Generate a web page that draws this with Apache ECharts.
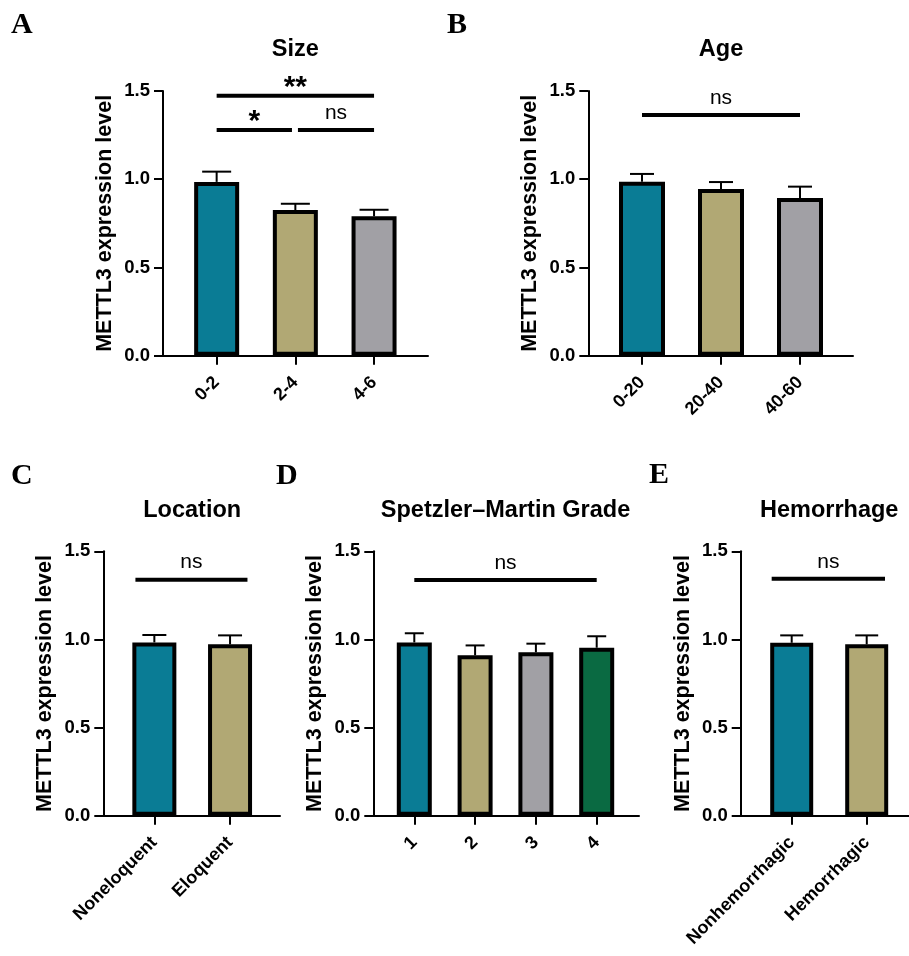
<!DOCTYPE html>
<html>
<head>
<meta charset="utf-8">
<script src="https://cdn.jsdelivr.net/npm/echarts@6/dist/echarts.min.js"></script>
<style>
html,body{margin:0;padding:0;background:#fff;}
#chart{width:909px;height:956px;}
</style>
</head>
<body>
<div id="chart"></div>
<script>
// ---------------- DATA ----------------
const yTicks = [0.0, 0.5, 1.0, 1.5];
const yAxisName = 'METTL3 expression level';

const sizeTitle = 'Size';
const sizeCategories = ['0-2', '2-4', '4-6'];
const sizeMeans = [0.985, 0.825, 0.79];
const sizeSems = [0.058, 0.036, 0.037];
const sizeBrackets = [[0, 2, 1.473], [0, 0.957, 1.279], [1.033, 2, 1.279]];
const sizeBracketLabels = ['**', '*', 'ns'];

const ageTitle = 'Age';
const ageCategories = ['0-20', '20-40', '40-60'];
const ageMeans = [0.986, 0.944, 0.893];
const ageSems = [0.044, 0.040, 0.065];
const ageBrackets = [[0, 2, 1.364]];
const ageBracketLabels = ['ns'];

const locationTitle = 'Location';
const locationCategories = ['Noneloquent', 'Eloquent'];
const locationMeans = [0.983, 0.972];
const locationSems = [0.042, 0.051];
const locationBrackets = [[-0.25, 1.23, 1.339]];
const locationBracketLabels = ['ns'];

const gradeTitle = 'Spetzler\u2013Martin Grade';
const gradeCategories = ['1', '2', '3', '4'];
const gradeMeans = [0.983, 0.910, 0.927, 0.953];
const gradeSems = [0.052, 0.056, 0.049, 0.065];
const gradeBrackets = [[0, 3, 1.337]];
const gradeBracketLabels = ['ns'];

const hemorrhageTitle = 'Hemorrhage';
const hemorrhageCategories = ['Nonhemorrhagic', 'Hemorrhagic'];
const hemorrhageMeans = [0.981, 0.972];
const hemorrhageSems = [0.042, 0.051];
const hemorrhageBrackets = [[-0.267, 1.244, 1.344]];
const hemorrhageBracketLabels = ['ns'];

const panelLetters = ['A', 'B', 'C', 'D', 'E'];

// ---------------- STYLE / LAYOUT ----------------
const TEAL = '#0a7c95', TAN = '#b1a874', GRAY = '#a1a0a5', GREEN = '#0a6a42';
const SANS = '"Liberation Sans", Arial, sans-serif';
const SERIF = '"Liberation Serif", "Times New Roman", serif';

const panels = [
  {title: sizeTitle, cats: sizeCategories, means: sizeMeans, sems: sizeSems, br: sizeBrackets, brl: sizeBracketLabels, colors: [TEAL, TAN, GRAY]},
  {title: ageTitle, cats: ageCategories, means: ageMeans, sems: ageSems, br: ageBrackets, brl: ageBracketLabels, colors: [TEAL, TAN, GRAY]},
  {title: locationTitle, cats: locationCategories, means: locationMeans, sems: locationSems, br: locationBrackets, brl: locationBracketLabels, colors: [TEAL, TAN]},
  {title: gradeTitle, cats: gradeCategories, means: gradeMeans, sems: gradeSems, br: gradeBrackets, brl: gradeBracketLabels, colors: [TEAL, TAN, GRAY, GREEN]},
  {title: hemorrhageTitle, cats: hemorrhageCategories, means: hemorrhageMeans, sems: hemorrhageSems, br: hemorrhageBrackets, brl: hemorrhageBracketLabels, colors: [TEAL, TAN]}
];

const layouts = [
  {fl: 163, fw: 265, top: 91, h: 264.7, dl: 177.3, dw: 236.1, bw: 45, cap: 29, titleTop: 38, letterX: 11, letterY: 10},
  {fl: 588.3, fw: 264.7, top: 91, h: 264.7, dl: 602.5, dw: 237, bw: 46, cap: 24, titleTop: 38, letterX: 447, letterY: 10},
  {fl: 103.3, fw: 176.7, top: 551.3, h: 264.4, dl: 116.5, dw: 151.4, bw: 44, cap: 24, titleTop: 499, letterX: 11, letterY: 461},
  {fl: 373.3, fw: 265.7, top: 551.3, h: 264.4, dl: 383.9, dw: 243.2, bw: 35, cap: 19, titleTop: 499, letterX: 276, letterY: 461},
  {fl: 740.7, fw: 168.3, top: 551.3, h: 264.4, dl: 754.2, dw: 150, bw: 43, cap: 23, titleTop: 499, letterX: 649, letterY: 460}
];

// ---------------- BUILD OPTION ----------------
const grid = [], xAxis = [], yAxis = [], series = [], title = [];

panels.forEach((p, i) => {
  const L = layouts[i];
  const gF = grid.length;
  grid.push({left: L.fl, width: L.fw, top: L.top, height: L.h, outerBoundsMode: 'none'});
  const gD = grid.length;
  grid.push({left: L.dl, width: L.dw, top: L.top, height: L.h, outerBoundsMode: 'none'});

  // frame axes
  xAxis.push({type: 'value', gridIndex: gF, min: 0, max: 1,
    axisLine: {show: true, lineStyle: {color: '#000', width: 2}},
    axisTick: {show: false}, axisLabel: {show: false}, splitLine: {show: false}});
  yAxis.push({type: 'value', gridIndex: gF, min: yTicks[0], max: yTicks[yTicks.length - 1], interval: 0.5,
    name: yAxisName, nameLocation: 'middle', nameGap: 47,
    nameTextStyle: {fontFamily: SANS, fontWeight: 'bold', fontSize: 21.5, color: '#000'},
    axisLine: {show: true, lineStyle: {color: '#000', width: 2}},
    axisTick: {show: true, length: 9, lineStyle: {color: '#000', width: 2}},
    axisLabel: {margin: 13, fontFamily: SANS, fontWeight: 'bold', fontSize: 18.5, color: '#000',
      formatter: v => v.toFixed(1)},
    splitLine: {show: false}});

  // data axes
  const xC = xAxis.length;
  xAxis.push({type: 'category', gridIndex: gD, data: p.cats,
    axisLine: {show: false},
    axisTick: {show: true, alignWithLabel: true, length: 9, lineStyle: {color: '#000', width: 2}},
    axisLabel: {rotate: 45, margin: 24, fontFamily: SANS, fontWeight: 'bold', fontSize: 18, color: '#000', interval: 0},
    splitLine: {show: false}});
  const xV = xAxis.length;
  xAxis.push({type: 'value', gridIndex: gD, min: -0.5, max: p.cats.length - 0.5, show: false});
  const yD = yAxis.length;
  yAxis.push({type: 'value', gridIndex: gD, min: yTicks[0], max: yTicks[yTicks.length - 1], show: false});

  series.push({type: 'bar', xAxisIndex: xC, yAxisIndex: yD, barWidth: L.bw,
    data: p.means.map((m, k) => ({value: m, itemStyle: {color: p.colors[k]}})),
    itemStyle: {borderColor: '#000', borderWidth: 4},
    emphasis: {disabled: true}, z: 2});

  const means = p.means, sems = p.sems, capW = L.cap;
  series.push({type: 'custom', xAxisIndex: xV, yAxisIndex: yD, z: 3,
    dimensions: [{name: 'x', type: 'float'}, {name: 'm', type: 'float'}, {name: 's', type: 'float'}],
    encode: {x: 0, y: 1},
    data: means.map((m, k) => [k, m, sems[k]]),
    renderItem: (params, api) => {
      const x = api.value(0), m = api.value(1), s = api.value(2);
      const b = api.coord([x, m]);
      const t = api.coord([x, m + s]);
      return {type: 'group', children: [
        {type: 'line', shape: {x1: b[0], y1: b[1], x2: t[0], y2: t[1]}, style: {stroke: '#000', lineWidth: 2}},
        {type: 'line', shape: {x1: t[0] - capW / 2, y1: t[1], x2: t[0] + capW / 2, y2: t[1]}, style: {stroke: '#000', lineWidth: 2}}
      ]};
    }});

  const brl = p.brl;
  series.push({type: 'custom', xAxisIndex: xV, yAxisIndex: yD, z: 3,
    dimensions: [{name: 'a', type: 'float'}, {name: 'b', type: 'float'}, {name: 'y', type: 'float'}],
    encode: {x: [0, 1], y: 2},
    data: p.br,
    renderItem: (params, api) => {
      const p1 = api.coord([api.value(0), api.value(2)]);
      const p2 = api.coord([api.value(1), api.value(2)]);
      const lab = brl[params.dataIndex];
      const star = lab.indexOf('*') >= 0;
      return {type: 'group', children: [
        {type: 'line', shape: {x1: p1[0], y1: p1[1], x2: p2[0], y2: p2[1]}, style: {stroke: '#000', lineWidth: 4}},
        {type: 'text', x: (p1[0] + p2[0]) / 2, y: p1[1] - (star ? 8 : 17),
          style: {text: lab, fill: '#000', align: 'center', verticalAlign: 'middle',
            font: star ? 'bold 30px ' + SANS : 'normal 21px ' + SANS}}
      ]};
    }});

  title.push({text: p.title, left: L.dl + L.dw / 2, top: L.titleTop, textAlign: 'center', padding: 0,
    textStyle: {fontFamily: SANS, fontWeight: 'bold', fontSize: 23.5, color: '#000'}});
  title.push({text: panelLetters[i], left: L.letterX, top: L.letterY, padding: 0,
    textStyle: {fontFamily: SERIF, fontWeight: 'bold', fontSize: 30, color: '#000'}});
});

const chart = echarts.init(document.getElementById('chart'), null, {renderer: 'canvas'});
chart.setOption({animation: false, backgroundColor: '#fff', title, grid, xAxis, yAxis, series});
</script>
</body>
</html>
